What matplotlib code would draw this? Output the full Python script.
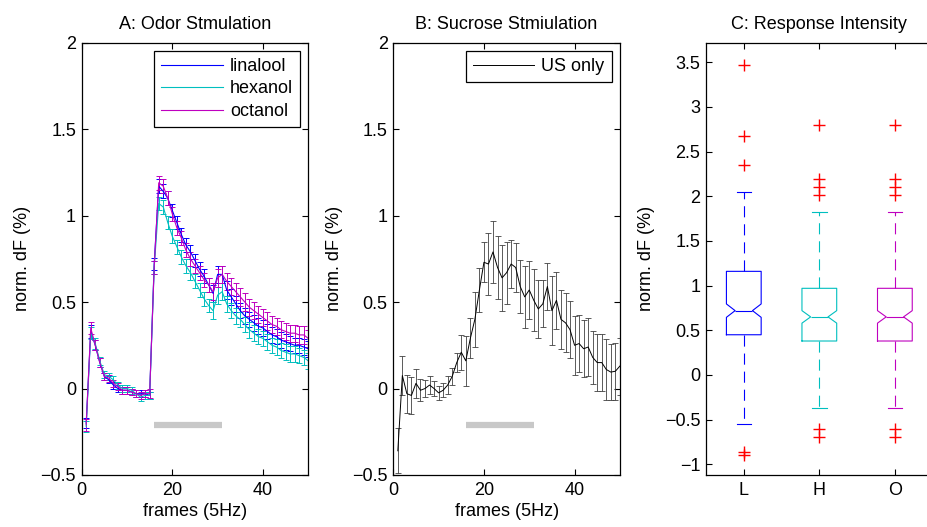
import numpy as np
import matplotlib
matplotlib.use('Agg')
import matplotlib.pyplot as plt
from matplotlib.ticker import FuncFormatter, MultipleLocator

FS = 13
plt.rcParams['font.family'] = ['Liberation Sans', 'DejaVu Sans']
plt.rcParams['font.size'] = FS
plt.rcParams['lines.scale_dashes'] = False

# ---- data ----
frames = np.arange(1, 51)

linalool = [-0.20, 0.33, 0.25, 0.15, 0.07, 0.05, 0.02, 0.00, -0.01, -0.01,
            -0.02, -0.03, -0.03, -0.03, -0.04, 0.72, 1.17, 1.14, 1.10, 1.03,
            0.96, 0.89, 0.83, 0.79, 0.74, 0.69, 0.65, 0.60, 0.55, 0.66,
            0.66, 0.57, 0.53, 0.49, 0.45, 0.42, 0.40, 0.38, 0.36, 0.35,
            0.33, 0.31, 0.30, 0.28, 0.27, 0.26, 0.25, 0.25, 0.24, 0.23]
linalool_err = [0.03, 0.035, 0.03, 0.025, 0.02, 0.02, 0.02, 0.02, 0.02, 0.02,
                0.02, 0.02, 0.02, 0.02, 0.02, 0.035, 0.04, 0.04, 0.04, 0.04,
                0.04, 0.04, 0.04, 0.04, 0.04, 0.04, 0.04, 0.04, 0.05, 0.05,
                0.05, 0.05, 0.045, 0.045, 0.045, 0.045, 0.045, 0.045, 0.045, 0.045,
                0.045, 0.045, 0.045, 0.045, 0.045, 0.045, 0.045, 0.045, 0.045, 0.045]

hexanol = [-0.22, 0.32, 0.26, 0.16, 0.08, 0.07, 0.05, 0.02, 0.00, 0.00,
           -0.01, -0.03, -0.05, -0.04, -0.04, 0.70, 1.07, 1.05, 0.96, 0.88,
           0.82, 0.76, 0.71, 0.67, 0.62, 0.57, 0.52, 0.48, 0.45, 0.54,
           0.56, 0.49, 0.45, 0.42, 0.40, 0.37, 0.34, 0.32, 0.30, 0.29,
           0.27, 0.25, 0.24, 0.22, 0.21, 0.20, 0.20, 0.19, 0.18, 0.16]
hexanol_err = [0.03, 0.035, 0.03, 0.025, 0.02, 0.02, 0.02, 0.02, 0.02, 0.02,
               0.02, 0.02, 0.02, 0.02, 0.02, 0.035, 0.04, 0.04, 0.04, 0.04,
               0.04, 0.04, 0.04, 0.04, 0.04, 0.04, 0.04, 0.04, 0.05, 0.05,
               0.05, 0.045, 0.045, 0.045, 0.045, 0.045, 0.045, 0.045, 0.045, 0.045,
               0.045, 0.045, 0.045, 0.045, 0.045, 0.045, 0.045, 0.045, 0.045, 0.045]

octanol = [-0.21, 0.35, 0.25, 0.15, 0.07, 0.06, 0.03, 0.01, -0.01, -0.01,
           -0.02, -0.03, -0.04, -0.03, -0.03, 0.70, 1.19, 1.17, 1.10, 1.01,
           0.93, 0.87, 0.80, 0.75, 0.71, 0.67, 0.63, 0.60, 0.56, 0.64,
           0.66, 0.62, 0.59, 0.56, 0.53, 0.50, 0.47, 0.45, 0.43, 0.41,
           0.39, 0.37, 0.36, 0.34, 0.33, 0.32, 0.32, 0.31, 0.31, 0.29]
octanol_err = [0.035, 0.035, 0.03, 0.025, 0.02, 0.02, 0.02, 0.02, 0.02, 0.02,
               0.02, 0.02, 0.02, 0.02, 0.025, 0.04, 0.04, 0.04, 0.04, 0.04,
               0.04, 0.04, 0.04, 0.04, 0.04, 0.04, 0.04, 0.04, 0.05, 0.05,
               0.05, 0.05, 0.05, 0.05, 0.05, 0.05, 0.05, 0.05, 0.05, 0.05,
               0.05, 0.05, 0.05, 0.05, 0.05, 0.05, 0.05, 0.05, 0.05, 0.05]

us_only = [-0.36, 0.075, -0.03, -0.04, 0.03, -0.01, 0.00, 0.02, 0.00, -0.025,
           -0.01, 0.02, 0.07, 0.15, 0.21, 0.16, 0.29, 0.40, 0.57, 0.73,
           0.72, 0.79, 0.70, 0.64, 0.67, 0.72, 0.70, 0.59, 0.53, 0.57,
           0.51, 0.46, 0.49, 0.59, 0.45, 0.51, 0.40, 0.38, 0.34, 0.25,
           0.26, 0.23, 0.24, 0.18, 0.15, 0.15, 0.11, 0.095, 0.10, 0.13]
us_only_err = [0.13, 0.115, 0.11, 0.105, 0.083, 0.063, 0.05, 0.05, 0.045, 0.04,
               0.04, 0.05, 0.05, 0.053, 0.10, 0.145, 0.116, 0.16, 0.126, 0.116,
               0.18, 0.18, 0.18, 0.19, 0.18, 0.14, 0.14, 0.155, 0.18, 0.17,
               0.18, 0.17, 0.136, 0.136, 0.20, 0.165, 0.17, 0.17, 0.165, 0.17,
               0.165, 0.165, 0.165, 0.155, 0.165, 0.165, 0.175, 0.16, 0.165, 0.165]

stim_on, stim_off, stim_level = 16, 31, -0.21

# boxplot summary for panel C
box_labels = ['L', 'H', 'O']
box_q1 = [0.45, 0.38, 0.38]
box_med = [0.72, 0.65, 0.65]
box_q3 = [1.16, 0.97, 0.97]
box_lo = [-0.55, -0.37, -0.37]
box_hi = [2.05, 1.82, 1.82]
box_cilo = [0.645, 0.58, 0.58]
box_cihi = [0.795, 0.72, 0.72]
box_fliers = [[3.47, 2.67, 2.35, -0.86, -0.90],
              [2.80, 2.19, 2.10, 2.01, -0.60, -0.70],
              [2.80, 2.19, 2.10, 2.01, -0.60, -0.70]]
box_colors = ['b', 'c', 'm']


def fmt(v, pos):
    v = round(v, 6) + 0.0
    return ('%g' % v).replace('-', '\u2212')


def style(ax):
    ax.tick_params(direction='in', top=True, right=True, length=4, width=0.8,
                   pad=4, labelsize=FS)
    ax.tick_params(axis='x', pad=5)
    for s in ax.spines.values():
        s.set_linewidth(0.9)
    ax.yaxis.set_major_formatter(FuncFormatter(fmt))


fig = plt.figure(figsize=(9.28, 5.27), dpi=100)
bottom, height, width = 0.0987, 0.8203, 0.2442
axA = fig.add_axes([0.0880, bottom, width, height])
axB = fig.add_axes([0.4238, bottom, width, height])
axC = fig.add_axes([0.7608, bottom, width, height])

# ---- A ----
handles = []
for vals, err, col, name in [(linalool, linalool_err, 'b', 'linalool'),
                             (hexanol, hexanol_err, 'c', 'hexanol'),
                             (octanol, octanol_err, 'm', 'octanol')]:
    eb = axA.errorbar(frames, vals, yerr=err, color=col, lw=0.8, elinewidth=0.7,
                      capsize=2, capthick=0.7, label=name)
    handles.append(eb[0])
axA.plot([stim_on, stim_off], [stim_level, stim_level], color='#c8c8c8', lw=4.5,
         solid_capstyle='butt')
axA.set_xlim(0, 50)
axA.set_ylim(-0.5, 2)
axA.xaxis.set_major_locator(MultipleLocator(20))
axA.yaxis.set_major_locator(MultipleLocator(0.5))
axA.set_title('A: Odor Stmulation', fontsize=FS, pad=10)
axA.set_xlabel('frames (5Hz)', labelpad=3)
axA.set_ylabel('norm. dF (%)', labelpad=7)
style(axA)
axA.legend(handles, ['linalool', 'hexanol', 'octanol'], loc='upper right',
           fancybox=False, edgecolor='black', framealpha=1, handlelength=3.4,
           handletextpad=0.4, labelspacing=0.3, borderaxespad=0.45,
           borderpad=0.4, fontsize=FS).get_frame().set_linewidth(0.9)

# ---- B ----
ebB = axB.errorbar(frames, us_only, yerr=us_only_err, color='black', lw=0.7,
                   elinewidth=0.6, ecolor='#404040', capsize=2, capthick=0.6)
axB.plot([stim_on, stim_off], [stim_level, stim_level], color='#c8c8c8', lw=4.5,
         solid_capstyle='butt')
axB.set_xlim(0, 50)
axB.set_ylim(-0.5, 2)
axB.xaxis.set_major_locator(MultipleLocator(20))
axB.yaxis.set_major_locator(MultipleLocator(0.5))
axB.set_title('B: Sucrose Stmiulation', fontsize=FS, pad=10)
axB.set_xlabel('frames (5Hz)', labelpad=3)
axB.set_ylabel('norm. dF (%)', labelpad=7)
style(axB)
axB.legend([ebB[0]], ['US only'], loc='upper right', fancybox=False,
           edgecolor='black', framealpha=1, handlelength=3.4, handletextpad=0.4,
           borderaxespad=0.45, borderpad=0.4, fontsize=FS).get_frame().set_linewidth(0.9)

# ---- C ----
stats = []
for i in range(3):
    stats.append(dict(label=box_labels[i], q1=box_q1[i], med=box_med[i],
                      q3=box_q3[i], whislo=box_lo[i], whishi=box_hi[i],
                      cilo=box_cilo[i], cihi=box_cihi[i], fliers=box_fliers[i]))
bp = axC.bxp(stats, positions=[1, 2, 3], widths=0.46, shownotches=True,
             capwidths=0.19, patch_artist=False)
for i, col in enumerate(box_colors):
    bp['boxes'][i].set(color=col, lw=0.8)
    bp['medians'][i].set(color=col, lw=0.8)
    for w in bp['whiskers'][2 * i:2 * i + 2]:
        w.set(color=col, lw=0.8, linestyle=(0, (8, 5)))
    for c in bp['caps'][2 * i:2 * i + 2]:
        c.set(color=col, lw=0.8)
    bp['fliers'][i].set(color='red', marker='+', markeredgecolor='red',
                        markersize=8, markeredgewidth=1.0, linestyle='none')
axC.set_xlim(0.5, 3.5)
axC.set_ylim(-1.12, 3.72)
axC.yaxis.set_major_locator(MultipleLocator(0.5))
axC.set_title('C: Response Intensity', fontsize=FS, pad=10)
axC.set_ylabel('norm. dF (%)', labelpad=7)
style(axC)

fig.savefig('out.png', dpi=100)
